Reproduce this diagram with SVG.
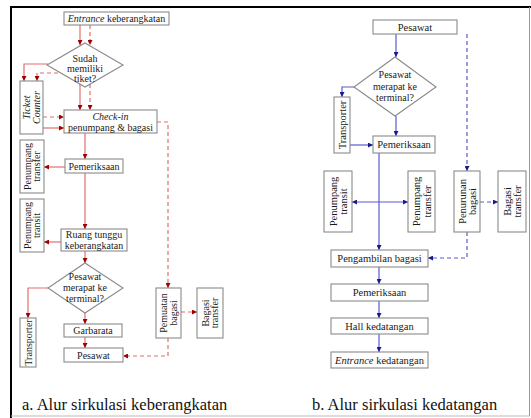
<svg xmlns="http://www.w3.org/2000/svg" width="531" height="418" viewBox="0 0 531 418">
<style>
  .box{fill:#fff;stroke:#8a8a8a;stroke-width:1.1}
  .t{font-family:"Liberation Serif","Times New Roman",serif;font-size:10px;fill:#1a1a1a;text-anchor:middle}
  .tr{font-size:10.5px}
  .ls{fill:none;stroke:#e07070;stroke-width:1.2}
  .ld{fill:none;stroke:#e07070;stroke-width:1.2;stroke-dasharray:4,3}
  .bs{fill:none;stroke:#5a5ad0;stroke-width:1.2}
  .bd{fill:none;stroke:#5a5ad0;stroke-width:1.2;stroke-dasharray:4,3}
  .cap{font-family:"Liberation Serif","Times New Roman",serif;font-size:16.5px;fill:#111}
</style>
<defs>
  <marker id="ar" viewBox="0 0 10 10" refX="10" refY="5" markerWidth="5" markerHeight="5" orient="auto-start-reverse" markerUnits="userSpaceOnUse"><path d="M0,0 L10,5 L0,10 z" fill="#a00000"/></marker>
  <marker id="ab" viewBox="0 0 10 10" refX="10" refY="5" markerWidth="5" markerHeight="5" orient="auto-start-reverse" markerUnits="userSpaceOnUse"><path d="M0,0 L10,5 L0,10 z" fill="#1a1a8a"/></marker>
</defs>
<rect width="531" height="418" fill="#fff"/>
<g id="frame">
  <line x1="10" y1="7" x2="531" y2="7" stroke="#000" stroke-width="2.2"/>
  <line x1="11" y1="6" x2="11" y2="418" stroke="#000" stroke-width="2"/>
  <line x1="529.5" y1="7" x2="529.5" y2="416" stroke="#999" stroke-width="1"/>
  <line x1="11" y1="416" x2="530" y2="416" stroke="#bbb" stroke-width="1"/>
</g>

<g id="connectors">
  <!-- left (a) -->
  <path class="ls" d="M80,25 V45" marker-end="url(#ar)"/>
  <path class="ld" d="M90,25 V45" marker-end="url(#ar)"/>
  <path class="ls" d="M48,64 H24 V81" marker-end="url(#ar)"/>
  <path class="ld" d="M58,73 H37 V81" marker-end="url(#ar)"/>
  <path class="ls" d="M80,84 V110" marker-end="url(#ar)"/>
  <path class="ld" d="M90,84 V110" marker-end="url(#ar)"/>
  <path class="ld" d="M43,117 H64" marker-end="url(#ar)"/>
  <path class="ls" d="M43,128 H64" marker-end="url(#ar)"/>
  <path class="ld" d="M157,122 H168 V288" marker-end="url(#ar)"/>
  <path class="ls" d="M85,133 V159" marker-end="url(#ar)"/>
  <path class="ls" d="M65,167 H44" marker-end="url(#ar)"/>
  <path class="ls" d="M85,173 V229" marker-end="url(#ar)"/>
  <path class="ls" d="M61,242 H44" marker-end="url(#ar)"/>
  <path class="ls" d="M85,251 V263" marker-end="url(#ar)"/>
  <path class="ls" d="M48,288 H28 V318" marker-end="url(#ar)"/>
  <path class="ls" d="M85,313 V324" marker-end="url(#ar)"/>
  <path class="ls" d="M85,337 V348" marker-end="url(#ar)"/>
  <path class="ld" d="M168,338 V356 H123" marker-end="url(#ar)"/>
  <path class="ld" d="M181,312 H197" marker-end="url(#ar)"/>
  <!-- right (b) -->
  <path class="bs" d="M396,34 V57" marker-end="url(#ab)"/>
  <path class="bs" d="M354,87 H342 V97" marker-end="url(#ab)"/>
  <path class="bs" d="M350,145 H373" marker-end="url(#ab)"/>
  <path class="bs" d="M396,116 V136" marker-end="url(#ab)"/>
  <path class="bd" d="M467,34 V171" marker-end="url(#ab)"/>
  <path class="bd" d="M480,202 H498" marker-end="url(#ab)"/>
  <path class="bs" d="M379,153 V250" marker-end="url(#ab)"/>
  <path class="bs" d="M352,202 H408" marker-start="url(#ab)" marker-end="url(#ab)"/>
  <path class="bd" d="M467,232 V258 H428" marker-end="url(#ab)"/>
  <path class="bs" d="M379,267 V284" marker-end="url(#ab)"/>
  <path class="bs" d="M379,301 V318" marker-end="url(#ab)"/>
  <path class="bs" d="M379,334 V352" marker-end="url(#ab)"/>
</g>

<!-- left nodes -->
<g id="a-entrance"><rect class="box" x="64" y="12" width="105" height="13"/><text class="t" x="116.5" y="22"><tspan font-style="italic">Entrance</tspan> keberangkatan</text></g>
<g id="a-sudah"><polygon class="box" points="85,43 123,65 85,87 47,65"/><text class="t" font-size="9" x="85" y="62">Sudah</text><text class="t" font-size="9" x="85" y="72">memiliki</text><text class="t" font-size="9" x="85" y="82">tiket?</text></g>
<g id="a-ticket"><rect class="box" x="20" y="81" width="23" height="53"/><text class="t" font-size="9.5" font-style="italic" transform="translate(31.5,107.5) rotate(-90)" y="-1.5">Ticket</text><text class="t" font-size="9.5" font-style="italic" transform="translate(31.5,107.5) rotate(-90)" y="8.5">Counter</text></g>
<g id="a-checkin"><rect class="box" x="64" y="110" width="93" height="23"/><text class="t" x="110.5" y="120" font-style="italic">Check-in</text><text class="t" x="110.5" y="130.5">penumpang &amp; bagasi</text></g>
<g id="a-pemeriksaan"><rect class="box" x="65" y="159" width="58" height="14"/><text class="t" x="94" y="169.5">Pemeriksaan</text></g>
<g id="a-ptransfer"><rect class="box" x="20" y="140" width="24" height="53"/><text class="t" font-size="9" transform="translate(32,166.5) rotate(-90)" y="-1.5">Penumpang</text><text class="t" font-size="9" transform="translate(32,166.5) rotate(-90)" y="8">transfer</text></g>
<g id="a-ruang"><rect class="box" x="61" y="229" width="66" height="22"/><text class="t" font-size="9.5" x="94" y="238">Ruang tunggu</text><text class="t" font-size="9.5" x="94" y="248.5">keberangkatan</text></g>
<g id="a-ptransit"><rect class="box" x="20" y="199" width="24" height="53"/><text class="t" font-size="9" transform="translate(32,225.5) rotate(-90)" y="-1.5">Penumpang</text><text class="t" font-size="9" transform="translate(32,225.5) rotate(-90)" y="8">transit</text></g>
<g id="a-merapat"><polygon class="box" points="85,263 123,288 85,313 48,288"/><text class="t" font-size="10.5" x="85" y="280">Pesawat</text><text class="t" font-size="10.5" x="85" y="291">merapat ke</text><text class="t" font-size="10.5" x="85" y="302">terminal?</text></g>
<g id="a-transporter"><rect class="box" x="20" y="318" width="16" height="49"/><text class="t" font-size="9.5" transform="translate(28,342.5) rotate(-90)" y="3.5">Transporter</text></g>
<g id="a-garbarata"><rect class="box" x="64" y="324" width="58" height="13"/><text class="t" x="93" y="334">Garbarata</text></g>
<g id="a-pesawat"><rect class="box" x="64" y="348" width="59" height="14"/><text class="t" x="93.5" y="358.5">Pesawat</text></g>
<g id="a-pemuatan"><rect class="box" x="156" y="288" width="25" height="50"/><text class="t" font-size="9.5" transform="translate(168.5,313) rotate(-90)" y="-1.5">Pemuatan</text><text class="t" font-size="9.5" transform="translate(168.5,313) rotate(-90)" y="8">bagasi</text></g>
<g id="a-btransfer"><rect class="box" x="197" y="288" width="26" height="50"/><text class="t" font-size="9.5" transform="translate(210,313) rotate(-90)" y="-1.5">Bagasi</text><text class="t" font-size="9.5" transform="translate(210,313) rotate(-90)" y="8">transfer</text></g>

<!-- right nodes -->
<g id="b-pesawat"><rect class="box" x="373" y="20" width="84" height="14"/><text class="t tr" x="415" y="30.5">Pesawat</text></g>
<g id="b-merapat"><polygon class="box" points="395,57 436,87 395,116 354,87"/><text class="t" font-size="11" x="395" y="78">Pesawat</text><text class="t" font-size="11" x="395" y="89.5">merapat ke</text><text class="t" font-size="11" x="395" y="100.5">terminal?</text></g>
<g id="b-transporter"><rect class="box" x="334" y="97" width="16" height="56"/><text class="t tr" transform="translate(342,125) rotate(-90)" y="3.5">Transporter</text></g>
<g id="b-pemeriksaan"><rect class="box" x="373" y="136" width="62" height="17"/><text class="t tr" x="404" y="148">Pemeriksaan</text></g>
<g id="b-ptransit"><rect class="box" x="324" y="171" width="28" height="61"/><text class="t tr" transform="translate(338,201.5) rotate(-90)" y="-1.5">Penumpang</text><text class="t tr" transform="translate(338,201.5) rotate(-90)" y="9">transit</text></g>
<g id="b-ptransfer"><rect class="box" x="408" y="171" width="27" height="61"/><text class="t tr" transform="translate(421.5,201.5) rotate(-90)" y="-1.5">Penumpang</text><text class="t tr" transform="translate(421.5,201.5) rotate(-90)" y="9">transfer</text></g>
<g id="b-penurunan"><rect class="box" x="454" y="171" width="26" height="61"/><text class="t tr" transform="translate(467,201.5) rotate(-90)" y="-1.5">Penurunan</text><text class="t tr" transform="translate(467,201.5) rotate(-90)" y="9">bagasi</text></g>
<g id="b-btransfer"><rect class="box" x="498" y="171" width="28" height="61"/><text class="t tr" transform="translate(512,201.5) rotate(-90)" y="-1.5">Bagasi</text><text class="t tr" transform="translate(512,201.5) rotate(-90)" y="9">transfer</text></g>
<g id="b-pengambilan"><rect class="box" x="331" y="250" width="97" height="17"/><text class="t tr" x="379.5" y="262">Pengambilan bagasi</text></g>
<g id="b-pemeriksaan2"><rect class="box" x="331" y="284" width="97" height="17"/><text class="t tr" x="379.5" y="296">Pemeriksaan</text></g>
<g id="b-hall"><rect class="box" x="331" y="318" width="97" height="16"/><text class="t tr" x="379.5" y="329.5">Hall kedatangan</text></g>
<g id="b-entrance"><rect class="box" x="331" y="352" width="97" height="16"/><text class="t tr" x="379.5" y="363.5"><tspan font-style="italic">Entrance</tspan> kedatangan</text></g>

<g id="captions">
  <text class="cap" x="22" y="410">a. Alur sirkulasi keberangkatan</text>
  <text class="cap" x="312" y="410">b. Alur sirkulasi kedatangan</text>
</g>
</svg>
